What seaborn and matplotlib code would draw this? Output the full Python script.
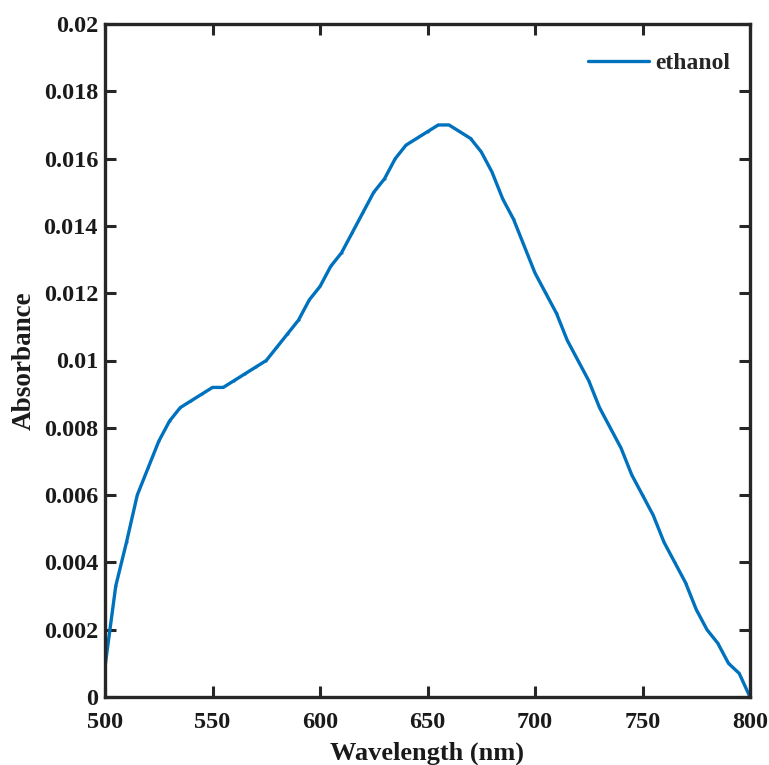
import numpy as np
import pandas as pd
import matplotlib
matplotlib.use('Agg')
import matplotlib.pyplot as plt
from matplotlib.ticker import FuncFormatter
import seaborn as sns

# wavelength grid (nm), one reading every 5 nm
wavelength = list(range(500, 805, 5))
absorbance = [
    0.0009, 0.0033, 0.0046, 0.0060, 0.0068, 0.0076, 0.0082, 0.0086, 0.0088, 0.0090,
    0.0092, 0.0092, 0.0094, 0.0096, 0.0098, 0.0100, 0.0104, 0.0108, 0.0112, 0.0118,
    0.0122, 0.0128, 0.0132, 0.0138, 0.0144, 0.0150, 0.0154, 0.0160, 0.0164, 0.0166,
    0.0168, 0.0170, 0.0170, 0.0168, 0.0166, 0.0162, 0.0156, 0.0148, 0.0142, 0.0134,
    0.0126, 0.0120, 0.0114, 0.0106, 0.0100, 0.0094, 0.0086, 0.0080, 0.0074, 0.0066,
    0.0060, 0.0054, 0.0046, 0.0040, 0.0034, 0.0026, 0.0020, 0.0016, 0.0010, 0.0007,
    0.0000,
]
series_name = 'ethanol'
x_ticks = [500, 550, 600, 650, 700, 750, 800]
y_ticks = [0, 0.002, 0.004, 0.006, 0.008, 0.01, 0.012, 0.014, 0.016, 0.018, 0.02]

df = pd.DataFrame({'Wavelength': wavelength, 'Absorbance': absorbance})
df['sample'] = series_name

sns.set_style('ticks')
plt.rcParams['font.family'] = ['Liberation Serif', 'DejaVu Serif']
plt.rcParams['font.weight'] = 'bold'

fig = plt.figure(figsize=(7.69, 7.65), dpi=100)
ax = fig.add_axes([105 / 769, 68 / 765, 645 / 769, 673 / 765])

sns.lineplot(data=df, x='Wavelength', y='Absorbance', hue='sample',
             palette=['#0072BD'], linewidth=2.4, marker='.', markersize=3,
             markeredgewidth=0, ax=ax)

ax.set_xlim(500, 800)
ax.set_ylim(0, 0.02)
ax.set_xticks(x_ticks)
ax.set_yticks(y_ticks)
ax.yaxis.set_major_formatter(FuncFormatter(lambda v, p: '%g' % v))

ax.tick_params(direction='in', length=8, width=2.2, color='#262626',
               top=True, right=True, labelsize=17.5, labelcolor='#1a1a1a')
ax.tick_params(axis='x', pad=11)
ax.tick_params(axis='y', pad=5)
for lab in ax.get_xticklabels() + ax.get_yticklabels():
    lab.set_fontweight('bold')
for s in ax.spines.values():
    s.set_visible(True)
    s.set_linewidth(2.4)
    s.set_color('#262626')

ax.set_xlabel('Wavelength (nm)', fontsize=19, fontweight='bold', color='#1a1a1a', labelpad=6)
ax.set_ylabel('Absorbance', fontsize=19.5, fontweight='bold', color='#1a1a1a', labelpad=5)

leg = ax.legend(loc='upper right', bbox_to_anchor=(1 + 9 / 645, 1.0), frameon=False,
                fontsize=17, handlelength=2.55, handletextpad=0.3, borderaxespad=0.8)
for t in leg.get_texts():
    t.set_fontweight('bold')

fig.savefig('out.png', dpi=100)
